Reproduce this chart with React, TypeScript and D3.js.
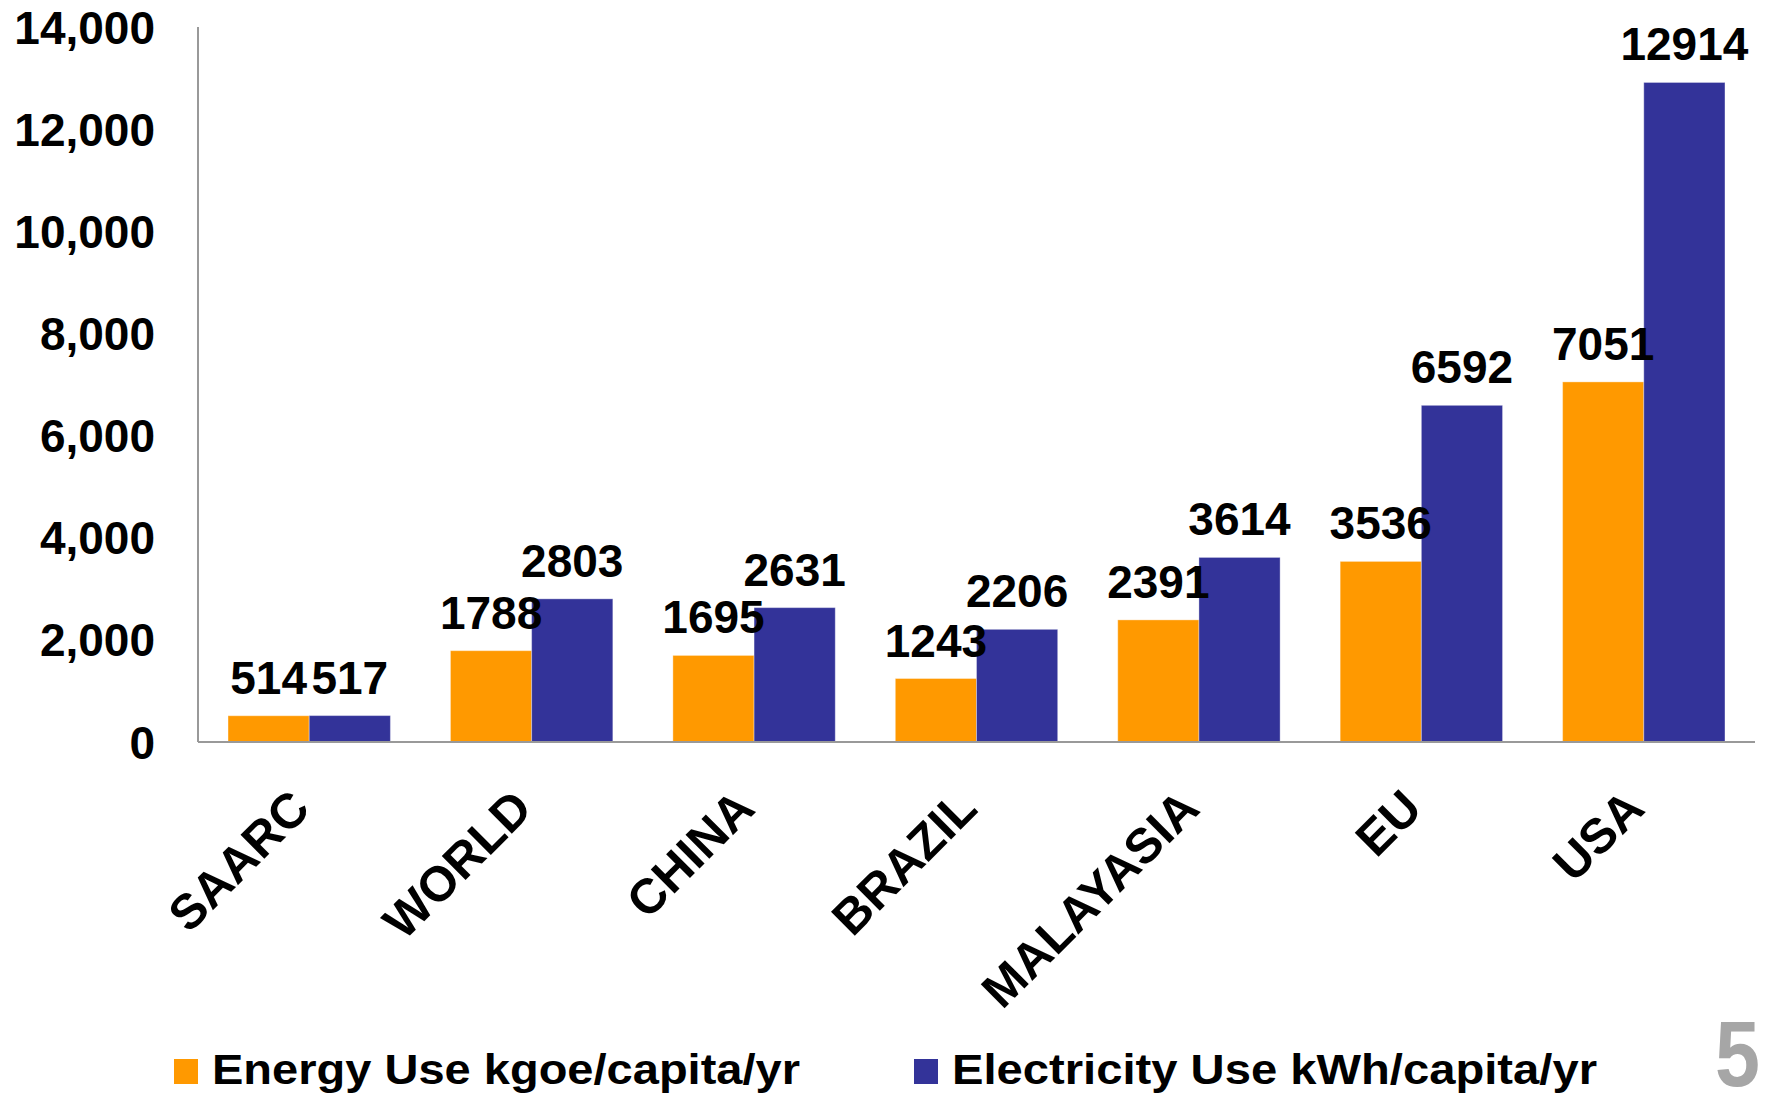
import * as d3 from 'd3';

import React, { useEffect, useRef } from 'react';

const categories = ['SAARC', 'WORLD', 'CHINA', 'BRAZIL', 'MALAYASIA', 'EU', 'USA'];
const energyUse = [514, 1788, 1695, 1243, 2391, 3536, 7051];
const electricityUse = [517, 2803, 2631, 2206, 3614, 6592, 12914];
const yTicks = [0, 2000, 4000, 6000, 8000, 10000, 12000, 14000];

const seriesNames = ['Energy Use kgoe/capita/yr', 'Electricity Use kWh/capita/yr'];
const seriesColors = ['#FF9900', '#333399'];

const width = 1769;
const height = 1096;
const FONT = '"Liberation Sans", Arial, sans-serif';

export default function App() {
  const chartRef = useRef(null);

  useEffect(() => {
    const svg = d3.select(chartRef.current).attr('width', width).attr('height', height);
    svg.selectAll('*').remove();

    const left = 198;
    const right = 1755;
    const top = 27;
    const bottom = 742;

    const x0 = d3.scaleBand<string>().domain(categories).range([left, right]).paddingInner(0.27).paddingOuter(0.135);
    const x1 = d3.scaleBand<number>().domain([0, 1]).range([0, x0.bandwidth()]);
    const y = d3.scaleLinear().domain([0, 14000]).range([bottom, top]);

    const rows = categories.map((c, i) => ({ name: c, values: [energyUse[i], electricityUse[i]] }));

    // bars
    const group = svg
      .append('g')
      .selectAll('g')
      .data(rows)
      .join('g')
      .attr('transform', (d) => `translate(${x0(d.name)},0)`);

    group
      .selectAll('rect')
      .data((d) => d.values.map((v, k) => ({ v, k })))
      .join('rect')
      .attr('x', (d) => x1(d.k)!)
      .attr('y', (d) => y(d.v))
      .attr('width', x1.bandwidth())
      .attr('height', (d) => bottom - y(d.v))
      .attr('fill', (d) => seriesColors[d.k])
      .attr('stroke', 'rgba(255,255,255,0.35)')
      .attr('stroke-width', 1);

    // axes
    svg
      .append('line')
      .attr('x1', left)
      .attr('x2', left)
      .attr('y1', top)
      .attr('y2', bottom)
      .attr('stroke', '#999')
      .attr('stroke-width', 2);
    svg
      .append('line')
      .attr('x1', left)
      .attr('x2', right)
      .attr('y1', bottom)
      .attr('y2', bottom)
      .attr('stroke', '#999')
      .attr('stroke-width', 2);

    // value labels
    group
      .selectAll('text')
      .data((d) => d.values.map((v, k) => ({ v, k })))
      .join('text')
      .attr('x', (d) => x1(d.k)! + x1.bandwidth() / 2)
      .attr('y', (d) => y(d.v) - 22)
      .attr('text-anchor', 'middle')
      .attr('font-family', FONT)
      .attr('font-weight', 'bold')
      .attr('font-size', 46)
      .attr('fill', '#000')
      .text((d) => String(d.v));

    // y tick labels
    svg
      .append('g')
      .selectAll('text')
      .data(yTicks)
      .join('text')
      .attr('x', 155)
      .attr('y', (d) => y(d))
      .attr('dy', '0.36em')
      .attr('text-anchor', 'end')
      .attr('font-family', FONT)
      .attr('font-weight', 'bold')
      .attr('font-size', 46)
      .attr('fill', '#000')
      .text((d) => d3.format(',')(d));

    // category labels, rotated
    svg
      .append('g')
      .selectAll('text')
      .data(categories)
      .join('text')
      .attr('transform', (d) => `translate(${x0(d)! + x0.bandwidth() / 2 - 22},786) rotate(-45)`)
      .attr('dy', '0.72em')
      .attr('text-anchor', 'end')
      .attr('font-family', FONT)
      .attr('font-weight', 'bold')
      .attr('font-size', 49)
      .attr('fill', '#000')
      .text((d) => d);

    // legend
    const legendX = [174, 914];
    const legendLen = [588, 645];
    const legend = svg
      .append('g')
      .selectAll('g')
      .data(seriesNames)
      .join('g');
    legend
      .append('rect')
      .attr('x', (d, i) => legendX[i])
      .attr('y', 1059)
      .attr('width', 24)
      .attr('height', 25)
      .attr('fill', (d, i) => seriesColors[i]);
    legend
      .append('text')
      .attr('x', (d, i) => legendX[i] + 38)
      .attr('y', 1084)
      .attr('font-family', FONT)
      .attr('font-weight', 'bold')
      .attr('font-size', 42)
      .attr('textLength', (d, i) => legendLen[i])
      .attr('lengthAdjust', 'spacingAndGlyphs')
      .attr('fill', '#000')
      .text((d) => d);

    // slide number
    svg
      .append('text')
      .attr('x', 1715)
      .attr('y', 1086)
      .attr('font-family', FONT)
      .attr('font-weight', 'bold')
      .attr('font-size', 92)
      .attr('textLength', 45)
      .attr('lengthAdjust', 'spacingAndGlyphs')
      .attr('fill', '#A6A6A6')
      .text('5');
  });

  return (
    <svg
      ref={chartRef}
      style={{ position: 'absolute', left: 0, top: 0, background: '#fff' }}
    ></svg>
  );
}
